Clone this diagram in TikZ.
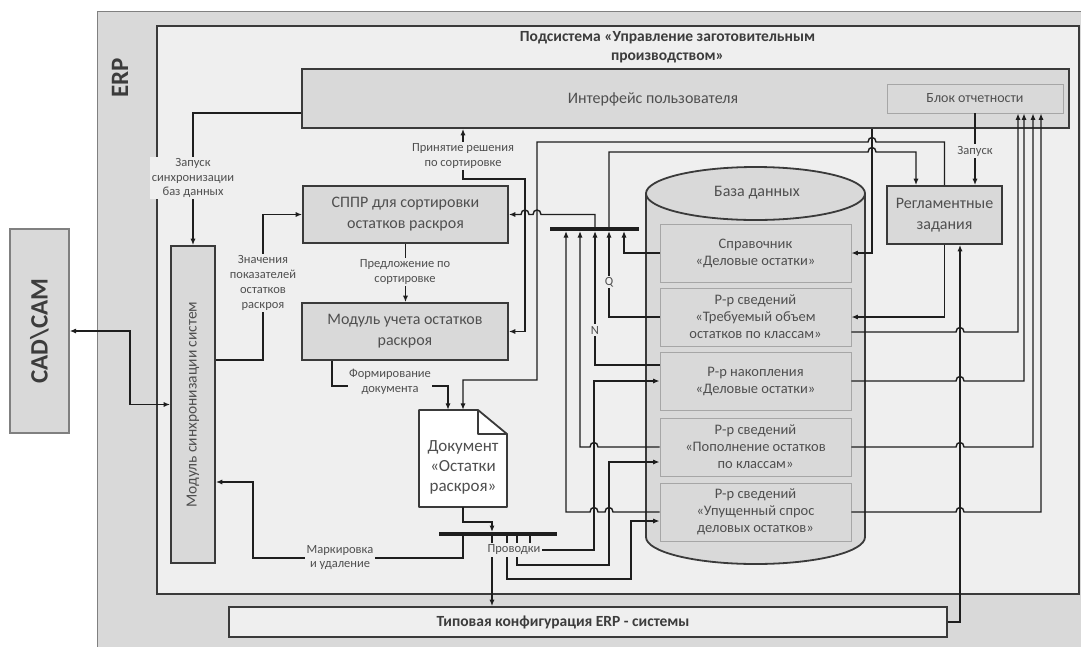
\documentclass[tikz,border=0pt]{standalone}
\usepackage{fontspec}
\setmainfont{Carlito}
\usetikzlibrary{arrows.meta,calc}
\definecolor{erpfill}{HTML}{D9D9D9}
\definecolor{subfill}{HTML}{EFEFEF}
\definecolor{panel}{HTML}{D9D9D9}
\definecolor{edge}{HTML}{3A3A3A}
\definecolor{wirecol}{HTML}{1E1E1E}
\definecolor{ink}{HTML}{4F4F4F}
\definecolor{heading}{HTML}{3C3C3C}
\definecolor{rim}{HTML}{A6A6A6}
\definecolor{frame}{HTML}{808080}

\begin{document}
\begin{tikzpicture}[x=1pt, y=-1pt, text=ink,
  box/.style={draw=edge, fill=panel, line width=1.8pt, inner sep=0pt, align=center,
    font=\fontsize{16}{21}\selectfont},
  register/.style={draw=rim, fill=panel, line width=0.9pt, inner sep=0pt, align=center,
    minimum width=191, minimum height=58, font=\fontsize{14.5}{17}\selectfont},
  note/.style={fill=subfill, inner sep=1.5pt, align=center, font=\fontsize{12.5}{14.8}\selectfont},
  bar/.style={fill=wirecol, inner sep=0pt, minimum height=3.6},
  wire/.style={draw=wirecol, line width=1.4pt},
  arr/.style={wire, -{Latex[length=6.5pt,width=5.2pt]}},
  both/.style={wire, {Latex[length=6.5pt,width=5.2pt]}-{Latex[length=6.5pt,width=5.2pt]}}]
  \useasboundingbox (0,0) rectangle (1081,646);

  % ERP frame and the subsystem inside it
  \node[draw=frame, fill=erpfill, line width=1.2pt, inner sep=0pt, anchor=north west,
    minimum width=990, minimum height=641] (erp) at (97,11) {};
  \node[font=\bfseries\fontsize{25}{27}\selectfont, text=heading, rotate=90] (erplabel) at (120,78) {ERP};
  \node[draw=edge, fill=subfill, line width=1.8pt, inner sep=0pt, anchor=north west,
    minimum width=922, minimum height=568] (subsys) at (156,25) {};
  \node[font=\bfseries\fontsize{15.5}{19}\selectfont, text=heading, align=center] (title)
    at (667.5,47) {Подсистема «Управление заготовительным\\производством»};

  \node[draw=frame, fill=panel, line width=1.4pt, minimum width=59, minimum height=204] (cadcam) at (39.5,331) {};
  \node[font=\bfseries\fontsize{25}{27}\selectfont, text=heading, rotate=90] (cadtext) at (cadcam) {CAD\textbackslash CAM};

  \node[box, minimum width=767, minimum height=59] (ui) at (685.5,98.5) {};
  \node[font=\fontsize{16}{20}\selectfont] (uitext) at (653,99) {Интерфейс пользователя};
  \node[draw=rim, fill=panel, line width=0.9pt, minimum width=176, minimum height=29,
    font=\fontsize{14}{16}\selectfont] (reports) at (975,98.5) {Блок отчетности};
  \node[box, minimum width=115, minimum height=58] (jobs) at (944.5,215) {Регламентные\\задания};
  \node[box, minimum width=205, minimum height=57] (sppr) at (405.5,214.5) {СППР для сортировки\\остатков раскроя};
  \node[box, minimum width=206, minimum height=57] (accounting) at (405,331.5) {Модуль учета остатков\\раскроя};
  \node[box, minimum width=44, minimum height=317] (sync) at (193,404.5) {};
  \node[rotate=90, font=\fontsize{15.5}{18}\selectfont] (synctext) at (sync) {Модуль синхронизации систем};
  \node[draw=edge, fill=subfill, line width=1.8pt, minimum width=718, minimum height=30] (config) at (588,622) {};
  \node[font=\bfseries\fontsize{15.5}{18}\selectfont, text=heading] (configtext) at (563,622)
    {Типовая конфигурация ERP - системы};

  % database cylinder with its registers
  \filldraw[draw=edge, fill=panel, line width=1.8pt] (646,193.5) -- (646,537)
    arc[start angle=180, end angle=0, x radius=109.5, y radius=27] -- (865,193.5) -- cycle;
  \filldraw[draw=edge, fill=panel, line width=1.8pt] (755.5,193.5) ellipse[x radius=109.5, y radius=26.5];
  \node[font=\fontsize{16}{20}\selectfont] (db) at (757,193) {База данных};
  \foreach \i/\y/\txt in {1/253/{Справочник\\«Деловые остатки»},
      2/317/{Р-р сведений\\«Требуемый объем\\остатков по классам»},
      3/381/{Р-р накопления\\«Деловые остатки»},
      4/447/{Р-р сведений\\«Пополнение остатков\\по классам»},
      5/512/{Р-р сведений\\«Упущенный спрос\\деловых остатков»}}
    \node[register] (reg\i) at (755.5,\y) {\txt};

  % document
  \filldraw[draw=edge, fill=white, line width=1.8pt, line join=round]
    (419,410) -- (478,410) -- (507,434) -- (507,507) -- (419,507) -- cycle;
  \draw[edge, line width=1.8pt, line join=round] (478,410) -- (478,434) -- (507,434);
  \node[minimum width=88, minimum height=97, inner sep=0pt] (doc) at (463,458.5) {};
  \node[align=center, font=\fontsize{17}{20}\selectfont] (doctext) at (463,467) {Документ\\«Остатки\\раскроя»};

  \node[bar, minimum width=89] (merge) at (594.5,229) {};
  \node[bar, minimum width=118] (post) at (498,534) {};

  % connectors
  \draw[both] (cadcam.east) -- (130,331) |- (sync.west);
  \draw[arr] (ui.west |- 0,113) -| (sync.north);
  \draw[arr] (sync.east |- 0,360) -- (263,360) |- (sppr.west);
  \draw[arr] (sppr.south) -- (sppr.south |- accounting.north);
  \draw[arr] (accounting.south -| 332,0) |- (400,386) -| (doc.north -| 448,0);
  \draw[both] (ui.south -| 463,0) |- (525,179) |- (accounting.east);
  \draw[arr] (merge.north -| 595,0) -- (595,214.5) -- (541,214.5)
    .. controls (541,208.5) and (533,208.5) .. (533,214.5) -- (529,214.5)
    .. controls (529,208.5) and (521,208.5) .. (521,214.5) -- (sppr.east);
  \draw[arr] (jobs.north) -- (944.5,142) -- (876,142)
    .. controls (876,136) and (868,136) .. (868,142) -- (537,142) |- (doc.north |- 0,380) -- (doc.north);
  \draw[arr] (reg2.west) -| (merge.south -| 609,0);
  \draw[arr] (merge.north -| 609,0) -- (609,152) -- (868,152)
    .. controls (868,146) and (876,146) .. (876,152) -| (jobs.north -| 916,0);
  \draw[arr] (reg3.west |- 0,365) -| (merge.south -| 595,0);
  \draw[arr] (reg1.west) -| (merge.south -| 624,0);
  \draw[arr] (reg4.west) -- (598,447) .. controls (598,441) and (590,441) .. (590,447)
    -| (merge.south -| 580,0);
  \draw[arr] (reg5.west) -- (613,512) .. controls (613,506) and (605,506) .. (605,512)
    -- (598,512) .. controls (598,506) and (590,506) .. (590,512) -| (merge.south -| 566,0);
  \draw[arr] (ui.south -| 872,0) |- (reg1.east);
  \draw[arr] (jobs.south) |- (reg2.east);
  \draw[arr] (reports.south) -- (reports.south |- jobs.north);
  \foreach \r/\y/\x in {2/332/1018, 3/381/1024, 4/447/1033, 5/512/1041}
    \draw[arr] (reg\r.east |- 0,\y) -- (956,\y) .. controls (956,\y-6) and (964,\y-6) .. (964,\y)
      -| (reports.south -| \x,0);
  \draw[arr] (config.east) -| (jobs.south -| 960,0);
  \draw[arr] (doc.south) |- (492,522) -- (post.north -| 492,0);
  \draw[arr] (post.south -| 463,0) |- (253,558) |- (sync.east |- 0,482);
  \draw[arr] (post.south -| 492,0) -- (config.north -| 492,0);
  \draw[arr] (post.south -| 530,0) |- (594,550) |- (reg3.west);
  \draw[arr] (post.south -| 517,0) |- (609,565) |- (reg4.west |- 0,462);
  \draw[arr] (post.south -| 507,0) |- (631,579) |- (reg5.west |- 0,521);

  % connector labels
  \node[note] (lsync) at (193,178) {Запуск\\синхронизации\\баз данных};
  \node[note] (lvalues) at (263,283) {Значения\\показателей\\остатков\\раскроя};
  \node[note] (loffer) at (405,272) {Предложение по\\сортировке};
  \node[note] (lform) at (390,382) {Формирование\\документа};
  \node[note] (ldecide) at (463,156) {Принятие решения\\по сортировке};
  \node[note] (lrun) at (975,151) {Запуск};
  \node[note] (lq) at (609,282) {Q};
  \node[note] (ln) at (595,330) {N};
  \node[note] (lmark) at (340,557.5) {Маркировка\\и удаление};
  \node[note] (lpost) at (514,550) {Проводки};
\end{tikzpicture}
\end{document}
